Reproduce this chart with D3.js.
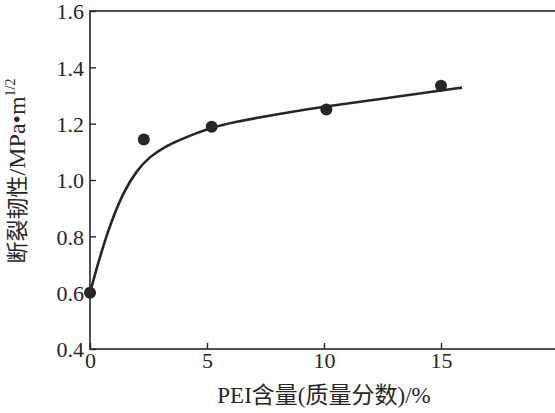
<!DOCTYPE html>
<html>
<head>
<meta charset="utf-8">
<script src="https://cdn.jsdelivr.net/npm/d3@7/dist/d3.min.js"></script>
<style>
  body { margin: 0; background: #fff; }
  .num { font-family: "Liberation Serif", "DejaVu Serif", serif; }
  .cjk { font-family: "Noto Sans CJK SC", sans-serif; }
</style>
</head>
<body>
<svg id="chart" width="555" height="413"></svg>
<script>
// measured points
var peiX = [0, 2.3, 5.2, 10.1, 15];
var toughY = [0.6, 1.144, 1.189, 1.25, 1.335];

// fitted curve
var fitX = [0, 0.43, 0.78, 1.0, 1.42, 2.0, 2.56, 3.13, 3.85, 4.56, 5.27, 5.98, 8.2, 10.1, 13.25, 15.9];
var fitY = [0.6, 0.73, 0.82, 0.87, 0.955, 1.035, 1.083, 1.115, 1.143, 1.167, 1.187, 1.203, 1.237, 1.262, 1.297, 1.328];

var xTicks = [0, 5, 10, 15];
var yTicks = [0.4, 0.6, 0.8, 1.0, 1.2, 1.4, 1.6];

var ink = '#262626';
var svg = d3.select('#chart');

var x = d3.scaleLinear().domain([0, 20]).range([90, 558]);
var y = d3.scaleLinear().domain([0.4, 1.6]).range([349, 11]);

// frame
svg.append('rect')
    .attr('x', x(0)).attr('y', y(1.6))
    .attr('width', x(20) - x(0)).attr('height', y(0.4) - y(1.6))
    .style('fill', 'none').style('stroke', ink).style('stroke-width', 1.6);

// left axis, ticks point inward
var yAxis = svg.append('g')
    .attr('transform', 'translate(' + x(0) + ',0)')
    .call(d3.axisRight(y).tickValues(yTicks).tickSize(6).tickFormat(d3.format('.1f')));
yAxis.select('.domain').remove();
yAxis.selectAll('line').style('stroke', ink).style('stroke-width', 1.4);
yAxis.selectAll('text')
    .attr('class', 'num')
    .attr('x', -6).attr('dy', '0.36em')
    .style('text-anchor', 'end')
    .style('font-size', '22px').style('fill', ink);

// bottom axis
var xAxis = svg.append('g')
    .attr('transform', 'translate(0,' + y(0.4) + ')')
    .call(d3.axisTop(x).tickValues(xTicks).tickSize(6));
xAxis.select('.domain').remove();
xAxis.selectAll('line').style('stroke', ink).style('stroke-width', 1.4);
xAxis.selectAll('text')
    .attr('class', 'num')
    .attr('y', 19).attr('dy', 0)
    .style('text-anchor', 'middle')
    .style('font-size', '22px').style('fill', ink);

// fitted line
var line = d3.line()
    .x(function(d, i) { return x(fitX[i]); })
    .y(function(d, i) { return y(fitY[i]); })
    .curve(d3.curveBasis);
svg.append('path')
    .datum(fitX)
    .attr('d', line)
    .style('fill', 'none').style('stroke', ink).style('stroke-width', 2.6);

// points
svg.append('g').selectAll('circle')
    .data(peiX)
    .enter().append('circle')
    .attr('cx', function(d) { return x(d); })
    .attr('cy', function(d, i) { return y(toughY[i]); })
    .attr('r', 6)
    .style('fill', ink);

// x title
var xt = svg.append('text')
    .attr('x', 324).attr('y', 403)
    .style('text-anchor', 'middle')
    .style('font-size', '23px').style('fill', ink);
xt.append('tspan').attr('class', 'num').text('PEI');
xt.append('tspan').attr('class', 'cjk').style('font-size', '23px').text('含量');
xt.append('tspan').attr('class', 'num').text('(');
xt.append('tspan').attr('class', 'cjk').style('font-size', '23px').text('质量分数');
xt.append('tspan').attr('class', 'num').text(')/%');

// y title
var yt = svg.append('text')
    .attr('transform', 'translate(25,171) rotate(-90)')
    .style('text-anchor', 'middle')
    .style('font-size', '24px').style('fill', ink);
yt.append('tspan').attr('class', 'cjk').style('font-size', '22px').text('断裂韧性');
yt.append('tspan').attr('class', 'num').text('/MPa•m');
yt.append('tspan').attr('class', 'num').attr('dy', -10).style('font-size', '14px').text('1/2');
</script>
</body>
</html>
